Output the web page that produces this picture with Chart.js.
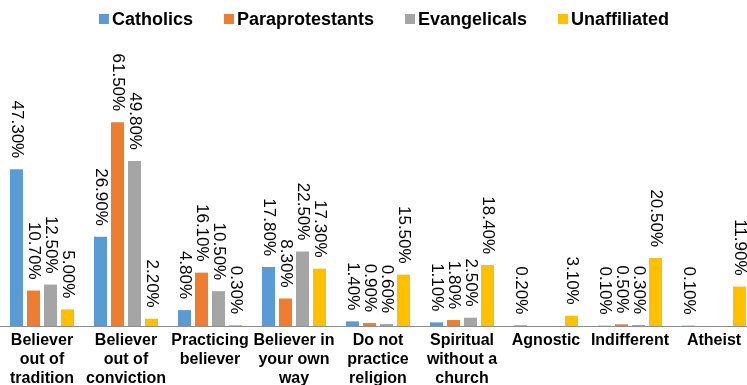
<!DOCTYPE html>
<html>
<head>
<meta charset="utf-8">
<title>Religious identity by group</title>
<script src="https://cdn.jsdelivr.net/npm/chart.js@4/dist/chart.umd.min.js"></script>
<style>
    html, body { margin: 0; padding: 0; background: #fff; overflow: hidden; }
    #wrap { width: 756px; height: 385px; }
</style>
</head>
<body>
<div id="wrap"><canvas id="religion-chart" width="756" height="385"></canvas></div>
<script>
(function () {
    "use strict";

    // Categories (multi-line labels) and one array per group, in percent
    var categories = [
        ['Believer', 'out of', 'tradition'],
        ['Believer', 'out of', 'conviction'],
        ['Practicing', 'believer'],
        ['Believer in', 'your own', 'way'],
        ['Do not', 'practice', 'religion'],
        ['Spiritual', 'without a', 'church'],
        'Agnostic',
        'Indifferent',
        'Atheist'
    ];
    var catholics       = [47.3, 26.9, 4.8, 17.8, 1.4, 1.1, 0.2, 0.1, 0.1];
    var paraprotestants = [10.7, 61.5, 16.1, 8.3, 0.9, 1.8, null, 0.5, null];
    var evangelicals    = [12.5, 49.8, 10.5, 22.5, 0.6, 2.5, null, 0.3, null];
    var unaffiliated    = [5.0, 2.2, 0.3, 17.3, 15.5, 18.4, 3.1, 20.5, 11.9];
    var yMax = 70;

    var FONT = '"Liberation Sans", Arial, sans-serif';

    // Legend row across the top
    var topLegend = {
        id: 'topLegend',
        afterDraw: function (chart) {
            var ctx = chart.ctx;
            var sets = chart.data.datasets;
            var box = 10, gap = 3, spacing = 31;
            ctx.save();
            ctx.font = 'bold 18px ' + FONT;
            var total = 0;
            sets.forEach(function (ds, i) {
                total += box + gap + ctx.measureText(ds.label).width + (i ? spacing : 0);
            });
            var x = 384 - total / 2, y = 19;
            ctx.textAlign = 'left';
            ctx.textBaseline = 'middle';
            sets.forEach(function (ds) {
                ctx.fillStyle = ds.backgroundColor;
                ctx.fillRect(x, y - box / 2, box, box);
                x += box + gap;
                ctx.fillStyle = '#000';
                ctx.fillText(ds.label, x, y + 1);
                x += ctx.measureText(ds.label).width + spacing;
            });
            ctx.restore();
        }
    };

    // Rotated percentage above each bar
    var valueLabels = {
        id: 'valueLabels',
        afterDatasetsDraw: function (chart) {
            var ctx = chart.ctx;
            ctx.save();
            ctx.font = '17px ' + FONT;
            ctx.fillStyle = '#000';
            ctx.textAlign = 'right';
            ctx.textBaseline = 'middle';
            chart.data.datasets.forEach(function (ds, i) {
                chart.getDatasetMeta(i).data.forEach(function (bar, j) {
                    var v = ds.data[j];
                    if (v === null || v === undefined) return;
                    ctx.save();
                    ctx.translate(bar.x, bar.y - 11);
                    ctx.rotate(Math.PI / 2);
                    ctx.fillText(v.toFixed(2) + '%', 0, 0);
                    ctx.restore();
                });
            });
            ctx.restore();
        }
    };

    function series(label, data, color) {
        return {
            label: label,
            data: data,
            backgroundColor: color,
            borderWidth: 0,
            categoryPercentage: 0.81,
            barPercentage: 0.765
        };
    }

    new Chart(document.getElementById('religion-chart'), {
        type: 'bar',
        data: {
            labels: categories,
            datasets: [
                series('Catholics', catholics, '#5B9BD5'),
                series('Paraprotestants', paraprotestants, '#ED7D31'),
                series('Evangelicals', evangelicals, '#A5A5A5'),
                series('Unaffiliated', unaffiliated, '#FFC000')
            ]
        },
        options: {
            responsive: false,
            animation: false,
            layout: { padding: { top: 94, left: 0, right: 0, bottom: 0 } },
            plugins: {
                legend: { display: false },
                tooltip: { enabled: false }
            },
            scales: {
                x: {
                    grid: { display: false, drawTicks: false },
                    border: { display: true, color: '#8c8c8c', width: 1 },
                    ticks: {
                        color: '#000',
                        padding: 5,
                        maxRotation: 0,
                        autoSkip: false,
                        font: { family: FONT, size: 16, weight: 'bold', lineHeight: '19px' }
                    },
                    afterFit: function (scale) { scale.height = 59; }
                },
                y: {
                    display: false,
                    min: 0,
                    max: yMax
                }
            }
        },
        plugins: [topLegend, valueLabels]
    });
})();
</script>
</body>
</html>
